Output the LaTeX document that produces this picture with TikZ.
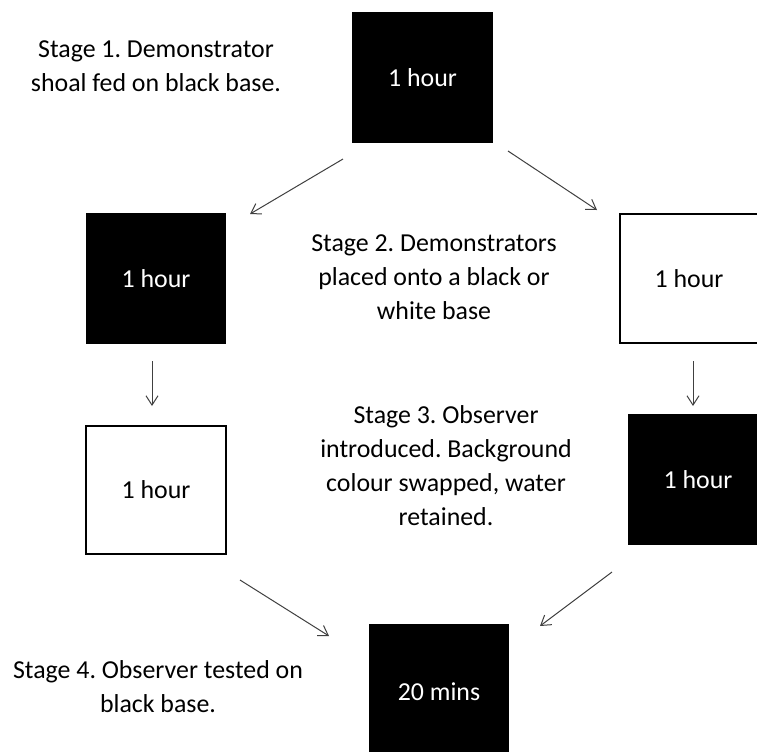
\documentclass[tikz,border=0pt]{standalone}
\usepackage{fontspec}
\setmainfont{Carlito}
\frenchspacing
\usetikzlibrary{arrows.meta,calc}
\tikzset{
  blackbox/.style={rectangle, fill=black, text=white, inner sep=0pt, outer sep=0pt, font=\fontsize{19.4}{25.5}\selectfont},
  whitebox/.style={rectangle, draw=black, line width=1.6pt, fill=white, text=black, inner sep=0pt, outer sep=0pt, font=\fontsize{19.4}{25.5}\selectfont},
  stagetext/.style={align=center, inner sep=0pt, font=\fontsize{19.4}{25.5}\selectfont},
  flow/.style={draw=black!75, line width=0.75pt, -{Straight Barb[length=7pt,width=9pt]}}
}
\begin{document}
\begin{tikzpicture}[x=0.75pt,y=-0.75pt]
\clip (0,0) rectangle (757,751);
\fill[white] (0,0) rectangle (757,751);
% boxes
\node[blackbox, minimum width=141*0.75pt, minimum height=131*0.75pt] (top) at (422.5,77.5) {1 hour};
\node[blackbox, minimum width=140*0.75pt, minimum height=131*0.75pt] (left1) at (156,278.5) {1 hour};
\node[whitebox, minimum width=138*0.75pt, minimum height=129*0.75pt] (right1) at (689,278.5) {1 hour};
\node[whitebox, minimum width=140*0.75pt, minimum height=128*0.75pt] (left2) at (156,490) {1 hour};
\node[blackbox, minimum width=140*0.75pt, minimum height=131*0.75pt] (right2) at (698,479.5) {1 hour};
\node[blackbox, minimum width=140*0.75pt, minimum height=136*0.75pt] (bottom) at (439,692) {20 mins};
% texts
\node[stagetext] (s1) at (156,66) {Stage 1. Demonstrator\\shoal fed on black base.};
\node[stagetext] (s2) at (434,277) {Stage 2. Demonstrators\\placed onto a black or\\white base};
\node[stagetext] (s3) at (446,466) {Stage 3. Observer\\introduced. Background\\colour swapped, water\\retained.};
\node[stagetext] (s4) at (158,687) {Stage 4. Observer tested on\\black base.};
% arrow end points
\coordinate (a1s) at ($(top.south west)+(-9,16)$);
\coordinate (a1e) at ($(left1.north east)+(24,1)$);
\coordinate (a2s) at ($(top.south east)+(15,8)$);
\coordinate (a2e) at ($(right1.north west)+(-23,-4)$);
\coordinate (a3s) at ($(left1.south)+(-4,17)$);
\coordinate (a3e) at ($(left2.north)+(-4,-20)$);
\coordinate (a4s) at ($(right1.south)+(4,18)$);
\coordinate (a4e) at ($(right2.north)+(-5,-8)$);
\coordinate (a5s) at ($(left2.south east)+(14,26)$);
\coordinate (a5e) at ($(bottom.north west)+(-40,12)$);
\coordinate (a6s) at ($(right2.south west)+(-16,27)$);
\coordinate (a6e) at ($(bottom.north east)+(31,2)$);
% arrows
\draw[flow] (a1s) -- (a1e);
\draw[flow] (a2s) -- (a2e);
\draw[flow] (a3s) -- (a3e);
\draw[flow] (a4s) -- (a4e);
\draw[flow] (a5s) -- (a5e);
\draw[flow] (a6s) -- (a6e);
\end{tikzpicture}
\end{document}
